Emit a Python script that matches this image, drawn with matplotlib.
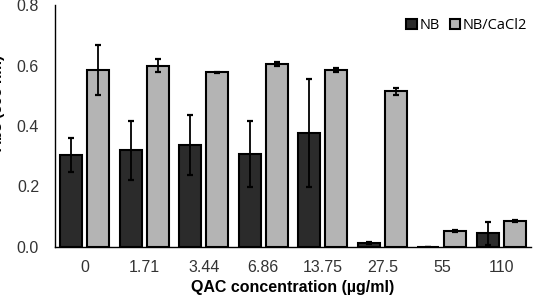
import numpy as np
import matplotlib
matplotlib.use("Agg")
import matplotlib.pyplot as plt

# data
conc = ["0", "1.71", "3.44", "6.86", "13.75", "27.5", "55", "110"]
nb = [0.304, 0.320, 0.337, 0.307, 0.378, 0.014, 0.0, 0.045]
nb_err = [0.057, 0.097, 0.100, 0.110, 0.178, 0.003, 0.0, 0.038]
nbca = [0.585, 0.600, 0.578, 0.605, 0.585, 0.515, 0.052, 0.086]
nbca_err = [0.083, 0.020, 0.002, 0.008, 0.007, 0.012, 0.003, 0.004]

plt.rcParams["font.family"] = ["Liberation Sans", "DejaVu Sans"]

fig = plt.figure(figsize=(5.51, 3.02), dpi=100)
ax = fig.add_axes([55/551, 1-247/302, 476/551, 242/302])

x = np.arange(len(conc))
w = 0.37
ax.bar(x-0.225, nb, w, yerr=nb_err, color="#2b2b2b", edgecolor="black", linewidth=1.5,
       error_kw=dict(ecolor="black", elinewidth=1.3, capsize=2.5, capthick=1.6), label="NB", zorder=2)
ax.bar(x+0.225, nbca, w, yerr=nbca_err, color="#b4b4b4", edgecolor="black", linewidth=1.5,
       error_kw=dict(ecolor="black", elinewidth=1.3, capsize=2.5, capthick=1.6), label="NB/CaCl2", zorder=2)

ax.set_xlim(-0.5, len(conc)-0.5)
ax.set_ylim(0, 0.8)
ax.set_yticks([0.0, 0.2, 0.4, 0.6, 0.8])
ax.set_yticklabels(["0.0", "0.2", "0.4", "0.6", "0.8"], fontsize=11.5, color="#333333")
ax.set_xticks(x)
ax.set_xticklabels(conc, fontsize=11.5, color="#333333")
ax.tick_params(length=0)
ax.tick_params(axis="x", pad=9)
ax.tick_params(axis="y", pad=11.5)
ax.spines["top"].set_visible(False)
ax.spines["right"].set_visible(False)
ax.spines["left"].set_linewidth(1.0)
ax.spines["bottom"].set_linewidth(1.0)

ax.set_xlabel("QAC concentration (µg/ml)", fontsize=11.5, fontweight="bold", labelpad=4)
# y label sits partly off the left edge, as in the reference
fig.text(5/551, 1-103/302, "Abs (595 nm)", rotation=90, ha="right", va="center",
         fontsize=11, fontweight="bold")

leg = ax.legend(loc="upper right", bbox_to_anchor=(1.02, 1.0), ncol=2, frameon=False,
                prop=dict(family="Open Sans", size=10.5), handlelength=0.7, handleheight=0.7,
                handletextpad=0.2, columnspacing=0.7)

fig.savefig("out.png", dpi=100)
